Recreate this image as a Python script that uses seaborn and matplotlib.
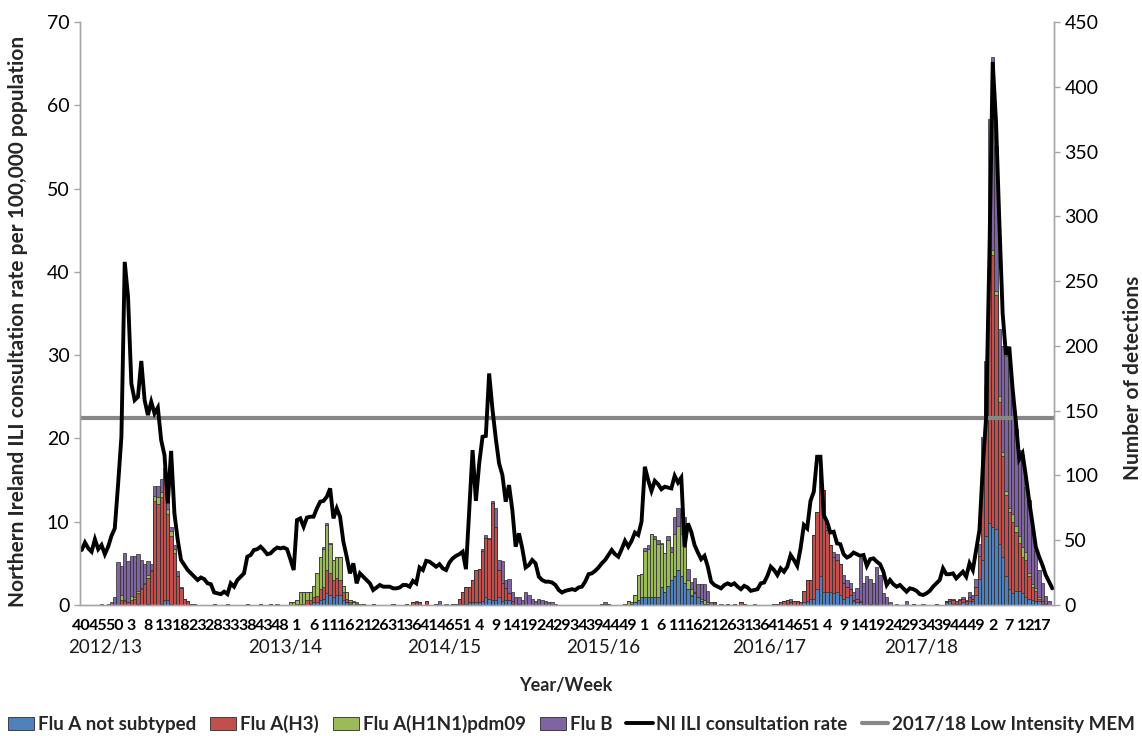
import numpy as np
import pandas as pd
import matplotlib
matplotlib.use("Agg")
import matplotlib.pyplot as plt
import matplotlib.transforms as mtransforms
from matplotlib.patches import Patch
from matplotlib.lines import Line2D
import seaborn as sns

# ---------------------------------------------------------------------------
# Weekly series, 2012 week 40 to 2018 week 20 (294 weeks)
# ---------------------------------------------------------------------------
START_YEAR, START_WEEK = 2012, 40
WEEKS_IN_YEAR = {2012: 52, 2013: 52, 2014: 52, 2015: 53, 2016: 52, 2017: 52, 2018: 52}
N_WEEKS = 294

# NI ILI consultation rate per 100,000 population
ILI_RATE = [
    6.6, 7.5, 6.8, 6.4, 7.9, 6.7, 7.2, 6.1, 7.0, 8.3,
    9.2, 14.5, 20.2, 41.2, 37.0, 26.6, 24.6, 25.0, 29.3, 24.6,
    22.8, 24.4, 23.0, 23.7, 19.8, 18.0, 12.2, 18.5, 11.0, 7.8,
    5.4, 4.8, 4.2, 3.8, 3.4, 3.0, 3.3, 3.1, 2.6, 2.5,
    1.5, 1.4, 1.3, 1.6, 1.3, 2.6, 2.2, 3.0, 3.4, 3.8,
    5.8, 6.0, 6.6, 6.7, 7.0, 6.6, 6.1, 6.2, 6.6, 6.9,
    6.8, 6.9, 6.7, 5.5, 4.2, 10.2, 10.4, 9.4, 10.5, 10.6,
    10.6, 11.6, 12.4, 12.5, 13.0, 14.0, 10.4, 11.6, 10.6, 7.6,
    5.8, 3.8, 5.0, 2.6, 3.8, 3.4, 3.0, 2.6, 1.8, 2.1,
    2.4, 2.2, 2.2, 2.2, 2.0, 2.0, 2.1, 2.4, 2.4, 2.2,
    2.9, 2.6, 4.5, 4.2, 5.3, 5.2, 4.9, 4.6, 4.9, 4.4,
    4.2, 5.1, 5.6, 5.9, 6.1, 6.4, 4.3, 11.5, 18.6, 12.5,
    17.0, 20.2, 20.3, 27.8, 23.5, 20.0, 17.0, 15.6, 12.4, 14.4,
    11.4, 7.0, 8.6, 6.8, 4.5, 4.8, 5.4, 5.0, 3.4, 3.0,
    2.8, 2.8, 2.7, 2.4, 1.8, 1.5, 1.7, 1.8, 1.9, 1.8,
    2.1, 2.2, 2.8, 3.7, 3.8, 4.1, 4.5, 5.0, 5.4, 6.0,
    6.6, 6.1, 5.8, 6.7, 7.7, 7.0, 7.7, 8.7, 8.4, 10.0,
    16.6, 15.0, 13.7, 14.9, 14.5, 13.9, 14.2, 14.1, 14.0, 15.5,
    14.7, 15.3, 7.0, 9.8, 8.8, 7.2, 6.3, 5.5, 5.9, 4.6,
    2.8, 2.4, 2.2, 2.0, 2.4, 2.6, 2.4, 2.6, 2.2, 1.9,
    2.3, 2.1, 1.7, 1.8, 1.9, 2.6, 2.7, 3.5, 4.6, 4.2,
    3.6, 4.4, 4.0, 4.6, 6.0, 5.4, 4.7, 6.8, 9.6, 9.2,
    12.5, 13.6, 17.8, 17.8, 10.8, 10.0, 8.7, 8.8, 7.4, 7.3,
    6.1, 5.7, 5.9, 6.3, 6.1, 5.9, 6.0, 4.7, 5.5, 5.6,
    5.2, 4.9, 4.0, 2.4, 3.0, 2.5, 2.2, 2.4, 2.0, 1.6,
    2.0, 1.9, 1.7, 1.3, 1.2, 1.4, 1.7, 2.2, 2.6, 3.0,
    4.4, 3.7, 3.7, 3.8, 3.2, 3.6, 4.0, 3.4, 5.0, 4.2,
    6.6, 9.0, 16.5, 22.5, 42.0, 65.2, 58.0, 46.0, 35.0, 30.0,
    31.0, 26.0, 22.0, 17.5, 18.2, 15.5, 12.5, 9.8, 7.0, 5.8,
    4.8, 3.6, 2.8, 2.0,
]

# Laboratory detections per week
FLU_A_UNTYPED = [
    0, 0, 0, 0, 0, 0, 0, 0, 0, 0,
    0, 0, 0, 0, 0, 0, 0, 1, 0, 0,
    1, 0, 0, 0, 1, 4, 4, 1, 0, 0,
    0, 0, 0, 0, 0, 0, 0, 0, 0, 0,
    1, 0, 0, 0, 0, 0, 0, 0, 0, 0,
    0, 0, 0, 0, 0, 0, 0, 0, 0, 0,
    0, 0, 0, 0, 0, 0, 0, 0, 0, 1,
    2, 2, 4, 5, 9, 8, 6, 8, 8, 4,
    2, 1, 0, 0, 0, 0, 0, 0, 0, 0,
    0, 0, 0, 0, 0, 0, 0, 0, 0, 0,
    0, 0, 0, 0, 0, 0, 0, 1, 0, 0,
    0, 0, 0, 0, 1, 1, 1, 2, 2, 2,
    2, 3, 6, 5, 4, 4, 6, 3, 4, 4,
    1, 0, 1, 0, 0, 0, 0, 0, 0, 0,
    0, 0, 0, 0, 0, 0, 0, 0, 0, 0,
    0, 0, 0, 0, 0, 0, 0, 0, 0, 1,
    0, 0, 0, 0, 0, 0, 1, 2, 4, 6,
    6, 6, 6, 6, 6, 14, 10, 15, 19, 22,
    27, 22, 17, 12, 7, 9, 6, 3, 1, 1,
    0, 1, 0, 0, 0, 0, 0, 0, 0, 0,
    0, 0, 0, 0, 0, 0, 0, 0, 0, 0,
    0, 0, 0, 1, 0, 0, 0, 0, 2, 3,
    5, 5, 12, 22, 10, 10, 10, 9, 10, 8,
    5, 6, 8, 3, 2, 2, 1, 0, 1, 0,
    1, 0, 0, 0, 0, 0, 0, 0, 0, 0,
    0, 0, 0, 0, 0, 0, 0, 0, 0, 0,
    0, 2, 3, 1, 1, 1, 2, 1, 3, 3,
    8, 20, 35, 53, 63, 60, 59, 47, 37, 22,
    12, 9, 11, 11, 9, 6, 5, 4, 3, 3,
    1, 1, 0, 0,
]

FLU_A_H3 = [
    0, 0, 0, 0, 0, 0, 0, 0, 0, 0,
    0, 0, 4, 3, 2, 4, 5, 8, 12, 16,
    20, 26, 80, 78, 82, 94, 66, 52, 40, 22,
    13, 5, 3, 1, 1, 0, 0, 0, 0, 0,
    0, 0, 0, 0, 0, 0, 0, 0, 0, 0,
    1, 0, 0, 0, 0, 0, 0, 1, 0, 0,
    0, 0, 0, 0, 0, 1, 1, 1, 4, 3,
    4, 5, 8, 9, 18, 17, 13, 13, 11, 6,
    3, 1, 0, 0, 0, 1, 0, 0, 1, 0,
    0, 0, 0, 0, 1, 0, 0, 0, 1, 0,
    2, 2, 2, 0, 3, 0, 0, 0, 0, 0,
    0, 0, 1, 1, 4, 9, 13, 12, 17, 25,
    26, 39, 46, 46, 75, 56, 21, 14, 9, 5,
    2, 0, 0, 0, 0, 0, 0, 0, 0, 0,
    0, 0, 0, 0, 0, 0, 0, 0, 0, 0,
    0, 0, 0, 0, 0, 0, 0, 1, 1, 0,
    0, 0, 0, 0, 0, 0, 0, 0, 0, 0,
    0, 0, 0, 0, 0, 0, 0, 0, 0, 0,
    0, 0, 0, 0, 1, 1, 0, 0, 0, 0,
    0, 1, 0, 0, 0, 1, 0, 1, 0, 2,
    1, 0, 0, 0, 0, 0, 0, 0, 0, 1,
    1, 2, 3, 3, 2, 3, 3, 2, 9, 16,
    14, 49, 60, 83, 79, 48, 36, 28, 25, 24,
    12, 8, 4, 1, 3, 1, 0, 0, 0, 0,
    0, 0, 0, 0, 0, 0, 0, 0, 0, 0,
    0, 1, 0, 0, 0, 0, 0, 0, 1, 0,
    0, 1, 2, 3, 2, 3, 3, 2, 3, 2,
    6, 18, 75, 115, 204, 210, 180, 110, 78, 63,
    60, 55, 45, 37, 28, 29, 17, 10, 8, 2,
    2, 0, 0, 0,
]

FLU_A_H1N1 = [
    0, 0, 0, 0, 0, 0, 0, 0, 0, 0,
    0, 0, 4, 1, 0, 3, 1, 2, 1, 1,
    2, 1, 4, 5, 4, 2, 4, 4, 3, 0,
    0, 0, 0, 0, 0, 0, 0, 0, 0, 0,
    0, 0, 0, 0, 1, 0, 0, 0, 0, 0,
    0, 0, 0, 0, 1, 0, 0, 0, 0, 0,
    0, 0, 0, 2, 2, 3, 9, 9, 6, 6,
    9, 18, 25, 29, 35, 22, 16, 16, 18, 5,
    5, 2, 2, 1, 0, 0, 0, 0, 0, 0,
    0, 0, 0, 0, 0, 0, 0, 0, 0, 0,
    0, 0, 0, 0, 0, 0, 0, 0, 0, 0,
    0, 0, 0, 0, 0, 0, 0, 0, 0, 0,
    0, 0, 0, 0, 0, 0, 0, 0, 0, 0,
    0, 0, 0, 0, 0, 0, 0, 0, 0, 0,
    0, 0, 0, 0, 0, 0, 0, 0, 0, 0,
    0, 0, 0, 0, 0, 0, 0, 0, 0, 0,
    0, 0, 0, 0, 1, 3, 1, 6, 19, 18,
    36, 37, 49, 45, 41, 33, 30, 35, 22, 33,
    34, 33, 28, 7, 4, 0, 0, 2, 3, 1,
    0, 0, 0, 0, 0, 0, 0, 0, 0, 0,
    0, 0, 0, 0, 0, 0, 0, 0, 0, 0,
    0, 0, 0, 0, 0, 0, 0, 0, 0, 0,
    0, 0, 0, 0, 0, 0, 0, 0, 0, 0,
    0, 0, 0, 0, 0, 0, 0, 0, 0, 0,
    0, 0, 0, 0, 0, 0, 0, 0, 0, 0,
    0, 0, 0, 0, 0, 0, 0, 0, 0, 0,
    0, 0, 0, 0, 0, 0, 0, 0, 0, 0,
    0, 0, 2, 2, 4, 4, 3, 4, 3, 3,
    3, 6, 5, 5, 8, 6, 3, 2, 2, 1,
    0, 0, 0, 0,
]

FLU_B = [
    0, 0, 0, 0, 0, 0, 1, 0, 1, 2,
    6, 33, 22, 36, 32, 31, 32, 28, 22, 15,
    11, 5, 8, 9, 10, 6, 7, 3, 3, 4,
    1, 0, 0, 0, 0, 0, 0, 0, 0, 0,
    0, 0, 0, 0, 0, 0, 0, 0, 0, 0,
    0, 0, 0, 0, 0, 0, 0, 0, 0, 1,
    0, 0, 0, 0, 0, 0, 0, 0, 0, 0,
    0, 0, 0, 2, 1, 1, 0, 0, 0, 0,
    0, 0, 1, 1, 1, 0, 0, 0, 0, 0,
    0, 0, 0, 0, 0, 0, 0, 0, 0, 0,
    0, 1, 0, 0, 0, 0, 0, 0, 3, 0,
    1, 0, 0, 0, 0, 0, 0, 0, 0, 0,
    0, 1, 2, 1, 1, 15, 8, 17, 6, 11,
    7, 6, 5, 4, 10, 8, 5, 3, 5, 4,
    3, 2, 2, 1, 0, 0, 0, 0, 0, 0,
    0, 0, 0, 0, 0, 0, 0, 0, 1, 0,
    0, 0, 0, 0, 0, 0, 0, 0, 0, 0,
    2, 3, 0, 2, 3, 1, 0, 3, 4, 13,
    14, 16, 23, 9, 6, 11, 10, 11, 12, 9,
    2, 0, 0, 1, 0, 0, 0, 0, 0, 0,
    0, 0, 0, 1, 0, 0, 0, 0, 0, 0,
    0, 0, 0, 0, 3, 0, 0, 0, 0, 0,
    0, 0, 0, 0, 0, 2, 0, 4, 4, 0,
    6, 5, 5, 6, 8, 33, 16, 22, 19, 17,
    28, 23, 9, 6, 2, 0, 1, 0, 0, 3,
    0, 0, 0, 0, 1, 0, 0, 0, 0, 0,
    0, 0, 0, 1, 0, 1, 1, 1, 4, 3,
    6, 9, 18, 18, 104, 149, 112, 52, 82, 104,
    111, 88, 75, 67, 71, 50, 56, 42, 29, 21,
    14, 6, 3, 0,
]

MEM_LOW_INTENSITY = 22.5

SEASON_LABELS = ["2012/13", "2013/14", "2014/15", "2015/16", "2016/17", "2017/18"]
SEASON_LABEL_WEEK_INDEX = [7, 61.5, 109.5, 157.5, 207.5, 253.5]

SERIES_NAMES = ["Flu A not subtyped", "Flu A(H3)", "Flu A(H1N1)pdm09", "Flu B"]
SERIES_COLORS = ["#4F81BD", "#C0504D", "#9BBB59", "#8064A2"]
LINE_LABEL = "NI ILI consultation rate"
MEM_LABEL = "2017/18 Low Intensity MEM"

# ---------------------------------------------------------------------------
# Week numbers along the category axis
# ---------------------------------------------------------------------------
week_numbers = []
yr, wk = START_YEAR, START_WEEK
for _ in range(N_WEEKS):
    week_numbers.append(wk)
    wk += 1
    if wk > WEEKS_IN_YEAR[yr]:
        yr += 1
        wk = 1

idx = np.arange(N_WEEKS)
df = pd.DataFrame({
    "week": idx,
    "ili": ILI_RATE,
    SERIES_NAMES[0]: FLU_A_UNTYPED,
    SERIES_NAMES[1]: FLU_A_H3,
    SERIES_NAMES[2]: FLU_A_H1N1,
    SERIES_NAMES[3]: FLU_B,
})

# cumulative heights: each layer is drawn over the one above it
cum = df[SERIES_NAMES].cumsum(axis=1)

# ---------------------------------------------------------------------------
# Figure
# ---------------------------------------------------------------------------
sns.set_theme(style="white")
plt.rcParams["font.family"] = ["Lato", "DejaVu Sans"]

W, H = 1142, 736
fig = plt.figure(figsize=(W / 100, H / 100), dpi=100)
left_px, right_px, top_px, bottom_px = 80, 1054, 22, 605
ax = fig.add_axes([left_px / W, 1 - bottom_px / H,
                   (right_px - left_px) / W, (bottom_px - top_px) / H])
ax2 = ax.twinx()

EDGE = "#2b2b2b"
for name, color in zip(SERIES_NAMES[::-1], SERIES_COLORS[::-1]):
    layer = pd.DataFrame({"week": df["week"], "n": cum[name]})
    layer = layer[layer["n"] > 0]
    sns.barplot(data=layer, x="week", y="n", native_scale=True, color=color,
                width=1.0, edgecolor=EDGE, linewidth=0.5, errorbar=None,
                saturation=1.0, ax=ax2)

sns.lineplot(data=df, x="week", y="ili", color="black", linewidth=2.8, ax=ax,
             solid_joinstyle="miter")
ax.axhline(MEM_LOW_INTENSITY, color="#878787", linewidth=3.0, zorder=1)

# line axis drawn above bar axis
ax.set_zorder(ax2.get_zorder() + 1)
ax.patch.set_visible(False)

ax.set_xlim(-0.5, N_WEEKS - 0.5)
ax2.set_xlim(-0.5, N_WEEKS - 0.5)
ax.set_ylim(0, 70)
ax2.set_ylim(0, 450)
ax.set_yticks(np.arange(0, 71, 10))
ax2.set_yticks(np.arange(0, 451, 50))

tick_pos = idx[::5]
ax.set_xticks(tick_pos)
ax.set_xticklabels([str(week_numbers[i]) for i in tick_pos],
                   fontsize=11.5, fontweight="bold")
ax.tick_params(axis="x", length=0, pad=10, colors="black")
ax2.tick_params(axis="x", length=0, labelbottom=False)
ax.tick_params(axis="y", direction="out", length=4.5, width=1, color="#A6A6A6",
               labelsize=14, pad=3, labelcolor="black", left=True)
ax2.tick_params(axis="y", direction="out", length=4.5, width=1, color="#A6A6A6",
                labelsize=14, pad=3, labelcolor="black", right=True)

ax.set_xlabel("")
ax.set_ylabel("")
ax2.set_xlabel("")
ax2.set_ylabel("")

for a in (ax, ax2):
    a.spines["top"].set_visible(False)
    for s in ("left", "right", "bottom"):
        a.spines[s].set_color("#A6A6A6")
        a.spines[s].set_linewidth(1.0)
    a.grid(False)

# season labels under the week numbers
trans = mtransforms.blended_transform_factory(ax.transData, ax.transAxes)
for lab, pos in zip(SEASON_LABELS, SEASON_LABEL_WEEK_INDEX):
    ax.text(pos, -(647 - bottom_px) / (bottom_px - top_px), lab, transform=trans,
            ha="center", va="center", fontsize=13.5, color="#1a1a1a")

fig.text(566 / W, 1 - 685 / H, "Year/Week", ha="center", va="center",
         fontsize=13, fontweight="bold")
fig.text(18 / W, 1 - 321 / H,
         "Northern Ireland ILI consultation rate per 100,000 population",
         rotation=90, ha="center", va="center", fontsize=15, fontweight="bold")
fig.text(1133 / W, 1 - 378 / H, "Number of detections", rotation=90,
         ha="center", va="center", fontsize=15, fontweight="bold")

handles = [Patch(facecolor=c, edgecolor=EDGE, linewidth=0.6) for c in SERIES_COLORS]
handles += [Line2D([0], [0], color="black", linewidth=2.8),
            Line2D([0], [0], color="#878787", linewidth=3.0)]
labels = SERIES_NAMES + [LINE_LABEL, MEM_LABEL]
fig.legend(handles, labels, loc="center", bbox_to_anchor=(0.5, 1 - 724 / H),
           ncol=6, frameon=False, handlelength=1.4, handleheight=0.75,
           handletextpad=0.2, columnspacing=0.75, borderaxespad=0,
           prop={"weight": "bold", "size": 13.5})

fig.savefig("out.png", dpi=100)
